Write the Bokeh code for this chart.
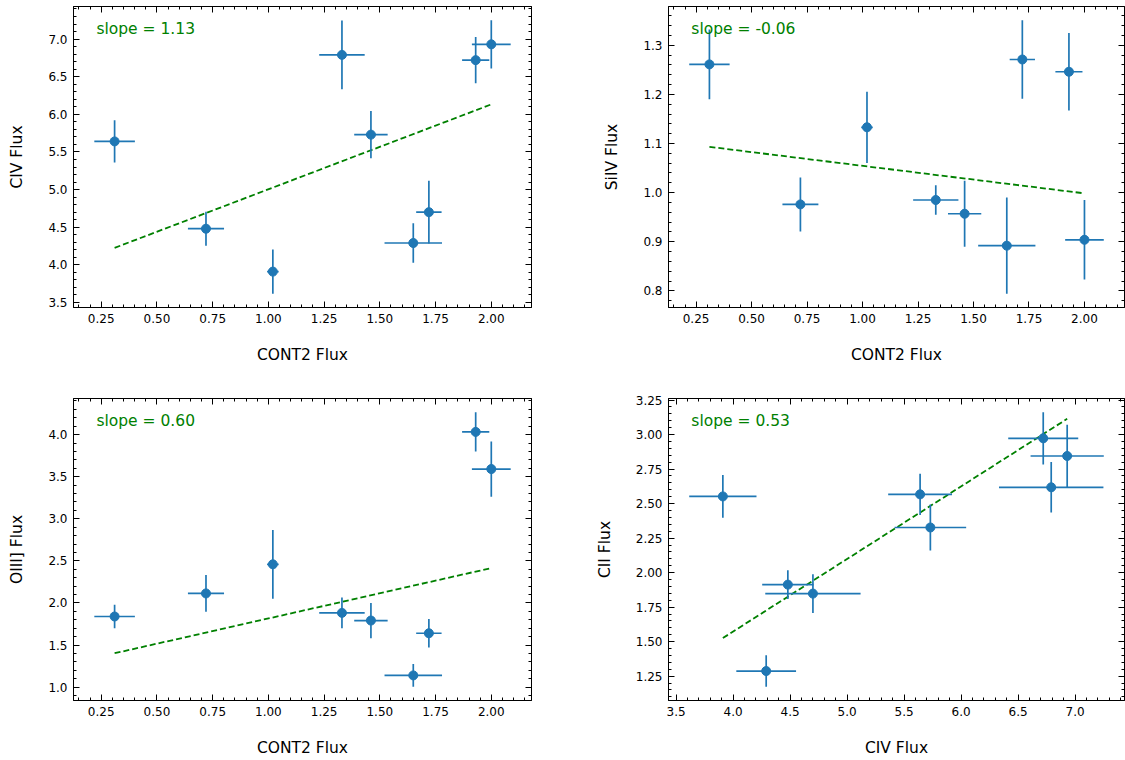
import numpy as np
from bokeh.plotting import figure
from bokeh.layouts import gridplot
from bokeh.models import (Range1d, LinearAxis, SingleIntervalTicker,
                          PrintfTickFormatter, Label)
from bokeh.embed import file_html
from bokeh.resources import INLINE

# ---- data ----
cont2 = [0.31, 0.72, 1.02, 1.33, 1.46, 1.65, 1.72, 1.93, 2.00]
cont2_err = [0.091, 0.081, 0.026, 0.102, 0.075, 0.129, 0.057, 0.061, 0.087]
civ = [5.64, 4.48, 3.91, 6.79, 5.73, 4.29, 4.70, 6.72, 6.93]
civ_err = [0.28, 0.225, 0.295, 0.458, 0.314, 0.262, 0.418, 0.307, 0.321]
siiv = [1.261, 0.976, 1.133, 0.985, 0.957, 0.892, 1.271, 1.246, 0.904]
siiv_err = [0.071, 0.055, 0.0725, 0.030, 0.067, 0.098, 0.080, 0.079, 0.081]
oiii = [1.839, 2.113, 2.459, 1.882, 1.791, 1.139, 1.640, 4.032, 3.591]
oiii_err = [0.139, 0.219, 0.409, 0.183, 0.209, 0.135, 0.169, 0.234, 0.328]
cii = [2.567, 1.913, 2.552, 2.618, 2.327, 1.287, 1.848, 2.973, 2.845]
cii_err = [0.149, 0.105, 0.155, 0.183, 0.166, 0.114, 0.140, 0.189, 0.227]

# linear fits (slope, intercept) as drawn in the reference
fit_civ_cont2 = (1.128, 3.876)
fit_siiv_cont2 = (-0.056, 1.1105)
fit_oiii_cont2 = (0.599, 1.2167)
fit_cii_civ = (0.526, -0.531)

BLUE = "#1f77b4"
GREEN = "#008000"
FONT = "DejaVu Sans"


def padded(vals, errs, frac=0.05):
    v = np.asarray(vals, float)
    e = np.asarray(errs, float)
    lo = float(np.min(v - e))
    hi = float(np.max(v + e))
    pad = (hi - lo) * frac
    return lo - pad, hi + pad


def style_axis(ax, interval, fmt, show_labels=True):
    ax.ticker = SingleIntervalTicker(interval=interval, num_minor_ticks=5)
    ax.formatter = PrintfTickFormatter(format=fmt if show_labels else "")
    ax.major_tick_in = 6
    ax.major_tick_out = 0
    ax.minor_tick_in = 3
    ax.minor_tick_out = 0
    ax.major_tick_line_color = "black"
    ax.minor_tick_line_color = "black"
    ax.major_tick_line_width = 1
    ax.minor_tick_line_width = 1
    ax.axis_line_color = "black"
    ax.axis_line_width = 1
    ax.major_label_text_font = FONT
    ax.major_label_text_font_size = "12px"
    ax.major_label_text_color = "black"
    ax.major_label_standoff = 6 if show_labels else 0
    ax.axis_label_text_font = FONT
    ax.axis_label_text_font_size = "15.5px"
    ax.axis_label_text_font_style = "normal"
    ax.axis_label_text_color = "black"


def panel(xs, xerr, ys, yerr, fit, xlabel, ylabel, xint, xfmt, yint, yfmt,
          width, height, borders):
    x0, x1 = padded(xs, xerr)
    y0, y1 = padded(ys, yerr)
    p = figure(width=width, height=height, output_backend="svg",
               toolbar_location=None, x_range=Range1d(x0, x1),
               y_range=Range1d(y0, y1))
    bl, br, bt, bb = borders
    p.min_border_left = bl
    p.min_border_right = br
    p.min_border_top = bt
    p.min_border_bottom = bb
    p.grid.visible = False
    p.outline_line_color = "black"
    p.outline_line_width = 1
    p.background_fill_color = "white"
    p.border_fill_color = "white"

    style_axis(p.xaxis[0], xint, xfmt)
    style_axis(p.yaxis[0], yint, yfmt)
    p.xaxis[0].axis_label = xlabel
    p.yaxis[0].axis_label = ylabel
    p.xaxis[0].axis_label_standoff = 20
    p.yaxis[0].axis_label_standoff = 19

    top = LinearAxis()
    style_axis(top, xint, xfmt, show_labels=False)
    p.add_layout(top, "above")
    right = LinearAxis()
    style_axis(right, yint, yfmt, show_labels=False)
    p.add_layout(right, "right")

    xs_a = np.asarray(xs, float)
    ys_a = np.asarray(ys, float)
    xe = np.asarray(xerr, float)
    ye = np.asarray(yerr, float)

    # fit line
    m, b = fit
    lx = np.array([xs_a.min(), xs_a.max()])
    p.line(lx, m * lx + b, line_color=GREEN, line_width=1.8, line_dash="6 3")

    # error bars
    p.segment(x0=xs_a - xe, y0=ys_a, x1=xs_a + xe, y1=ys_a,
              line_color=BLUE, line_width=1.7)
    p.segment(x0=xs_a, y0=ys_a - ye, x1=xs_a, y1=ys_a + ye,
              line_color=BLUE, line_width=1.7)
    p.scatter(xs_a, ys_a, size=9, marker="circle", fill_color=BLUE,
              line_color=BLUE)

    lab = Label(x=x0 + 0.05 * (x1 - x0), y=y1 - 0.05 * (y1 - y0),
                y_offset=2,
                text=f"slope = {m:.2f}", text_color=GREEN,
                text_font=FONT, text_font_size="15.5px",
                text_baseline="top", text_align="left")
    p.add_layout(lab)
    return p


p1 = panel(cont2, cont2_err, civ, civ_err, fit_civ_cont2,
           "CONT2 Flux", "CIV Flux", 0.25, "%.2f", 0.5, "%.1f",
           590, 385, (73, 59, 6, 78))
p2 = panel(cont2, cont2_err, siiv, siiv_err, fit_siiv_cont2,
           "CONT2 Flux", "SiIV Flux", 0.25, "%.2f", 0.1, "%.1f",
           535, 385, (78, 1, 6, 78))
p3 = panel(cont2, cont2_err, oiii, oiii_err, fit_oiii_cont2,
           "CONT2 Flux", "OIII] Flux", 0.25, "%.2f", 0.5, "%.1f",
           590, 375, (73, 59, 13, 60))
p4 = panel(civ, civ_err, cii, cii_err, fit_cii_civ,
           "CIV Flux", "CII Flux", 0.5, "%.1f", 0.25, "%.2f",
           535, 375, (78, 1, 13, 60))

grid = gridplot([[p1, p2], [p3, p4]], toolbar_location=None)

with open("out.html", "w") as f:
    f.write(file_html(grid, INLINE))
